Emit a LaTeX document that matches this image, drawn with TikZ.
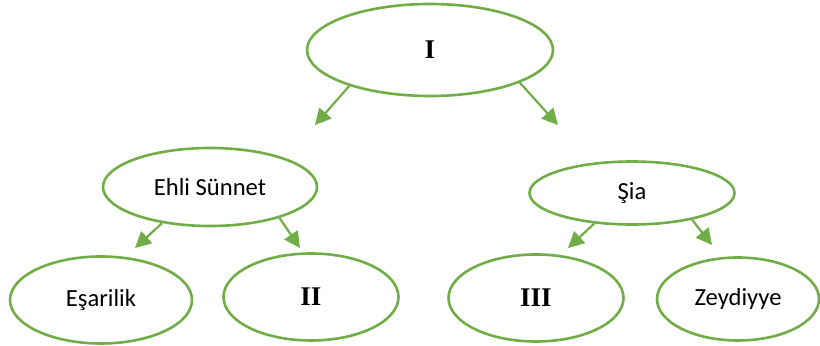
\documentclass[tikz,border=0pt]{standalone}
\usepackage{fontspec}
\setmainfont{Carlito}
\newfontfamily\numfont{Liberation Serif}
\usetikzlibrary{shapes.geometric, positioning, arrows.meta}
\definecolor{leaf}{HTML}{70AD47}

\begin{document}
\begin{tikzpicture}[on grid, >={Triangle[length=8pt, width=8pt]},
    kol/.style={ellipse, draw=leaf, line width=1.3pt, fill=white, inner sep=0pt,
      font=\fontsize{12.3}{14}\selectfont},
    num/.style={font=\numfont\bfseries\fontsize{13.5}{15}\selectfont}]
  \useasboundingbox (0,0) rectangle (410pt,-173pt);
  \node[kol, num, minimum width=123pt, minimum height=46pt] (0) at (215pt,-25pt) {I};
  \node[kol, minimum width=107pt, minimum height=39pt] [below left=68.5pt and 110pt of 0] (1) {Ehli Sünnet};
  \node[kol, minimum width=102.5pt, minimum height=31.5pt] [below right=71.5pt and 101pt of 0] (2) {Şia};
  \node[kol, minimum width=91pt, minimum height=43.5pt] [below left=56.5pt and 54.5pt of 1] (3) {Eşarilik};
  \node[kol, num, minimum width=87.5pt, minimum height=43.5pt] [below right=55pt and 50.5pt of 1] (4) {II};
  \node[kol, num, minimum width=87.5pt, minimum height=43.5pt] [below left=52.5pt and 48pt of 2] (5) {III};
  \node[kol, minimum width=81pt, minimum height=41.5pt] [below right=53pt and 53pt of 2] (6) {Zeydiyye};
  % free ends of the arrows
  \coordinate [below left=37.5pt and 57.5pt of 0] (0l);
  \coordinate [below right=37.5pt and 64pt of 0] (0r);
  \coordinate [below left=30.5pt and 37.5pt of 1] (1l);
  \coordinate [below right=30.5pt and 45pt of 1] (1r);
  \coordinate [below left=27.5pt and 32pt of 2] (2l);
  \coordinate [below right=26pt and 40pt of 2] (2r);
  \path[color=leaf, line width=1.1pt]
    (0.204) edge[->] (0l)
    (0.340) edge[->] (0r)
    (1.217) edge[->] (1l)
    (1.336) edge[->] (1r)
    (2.219) edge[->] (2l)
    (2.336) edge[->] (2r);
\end{tikzpicture}
\end{document}
